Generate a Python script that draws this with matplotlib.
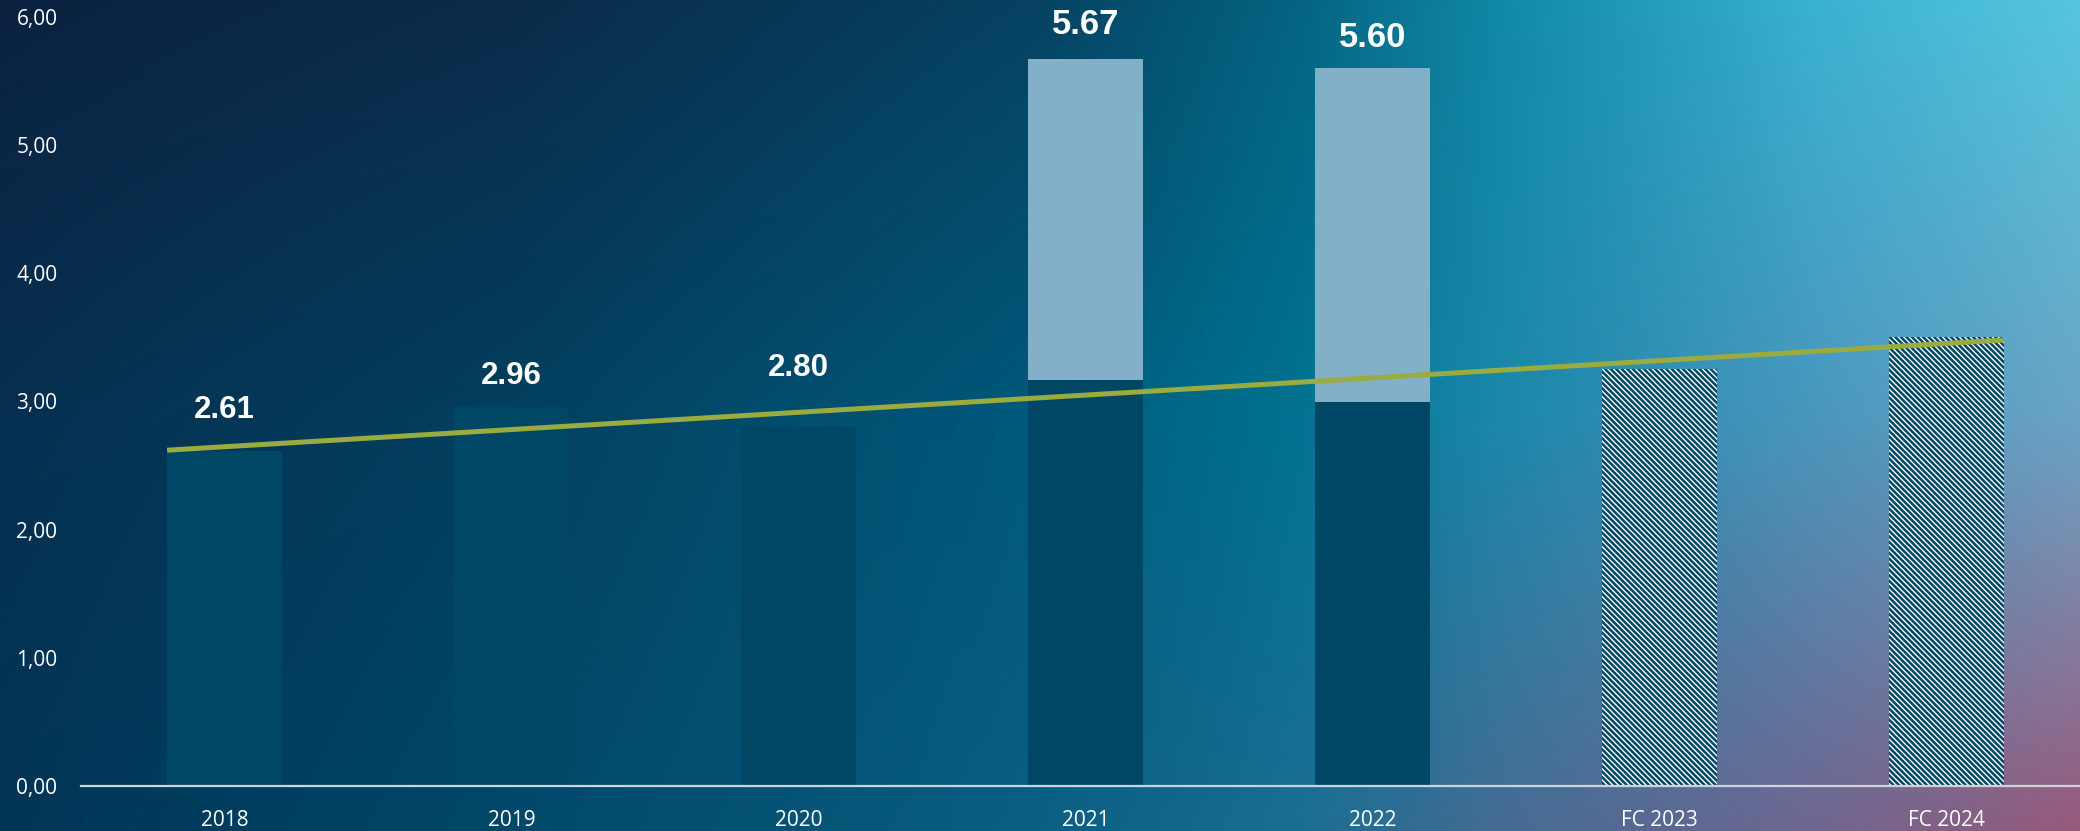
import matplotlib.pyplot as plt
import matplotlib.colors as mcolors
import numpy as np

# values
years = ['2018', '2019', '2020', '2021', '2022', 'FC 2023', 'FC 2024']
base = [2.61, 2.96, 2.80, 3.17, 3.00, 3.25, 3.50]
extra = [0, 0, 0, 2.50, 2.60, 0, 0]
forecast = [False, False, False, False, False, True, True]
totals = ['2.61', '2.96', '2.80', '5.67', '5.60', None, None]
trend = [2.62, 3.48]  # trend line value at left of first bar / right of last bar

# layout only: how far above each bar its label sits
label_lift = [0.32, 0.24, 0.46, 0.27, 0.24, 0, 0]

dark = '#004766'
light = '#82b0c8'

W, H = 2080, 831
fig = plt.figure(figsize=(W / 100, H / 100), dpi=100)

# background gradient, built from a few sampled colours
gx = [0, 0.25, 0.5, 0.625, 0.72, 0.875, 1.0]
rows = [
    ['#0b2240', '#0b2b4a', '#064262', '#046482', '#1088a5', '#3ab2d0', '#55c6de'],
    ['#062f50', '#03405f', '#005a7c', '#007391', '#1a87aa', '#4a97bd', '#6aa4c6'],
    ['#013556', '#00496a', '#0a5f82', '#1a6e92', '#456c94', '#6f6690', '#985a7c'],
]
gy = [0, 0.5, 1.0]
xs = np.linspace(0, 1, 400)
ys = np.linspace(0, 1, 160)
row_img = []
for r in rows:
    rgb = np.array([mcolors.to_rgb(c) for c in r])
    row_img.append(np.stack([np.interp(xs, gx, rgb[:, k]) for k in range(3)], axis=-1))
row_img = np.array(row_img)
img = np.empty((len(ys), len(xs), 3))
for k in range(3):
    for i in range(len(xs)):
        img[:, i, k] = np.interp(ys, gy, row_img[:, i, k])

bg = fig.add_axes([0, 0, 1, 1], zorder=-1)
bg.imshow(img, aspect='auto', extent=[0, 1, 1, 0], interpolation='bicubic')
bg.axis('off')

ax = fig.add_axes([81 / W, 1 - 786 / H, 2009 / W, (786 - 17) / H])
ax.patch.set_alpha(0)

x = np.arange(len(years))
width = 0.4
plt.rcParams['hatch.linewidth'] = 1.0
for i in range(len(years)):
    if forecast[i]:
        ax.bar(x[i], base[i], width, color=dark, edgecolor='white', linewidth=0,
               hatch='\\\\\\\\\\\\', zorder=2)
    else:
        ax.bar(x[i], base[i], width, color=dark, linewidth=0, zorder=2)
    if extra[i] > 0:
        ax.bar(x[i], extra[i], width, bottom=base[i], color=light, linewidth=0, zorder=2)
    if totals[i]:
        big = extra[i] > 0
        ax.text(x[i], base[i] + extra[i] + label_lift[i], totals[i], ha='center', va='center',
                color='white', fontweight='bold', family='Liberation Sans',
                fontsize=25 if big else 22.5, zorder=4)

ax.plot([x[0] - width / 2, x[-1] + width / 2], trend, color='#9aab40', linewidth=3.6,
        solid_capstyle='butt', zorder=3)

ax.set_xlim(-0.5, len(years) - 0.5)
ax.set_ylim(0, 6)
ax.set_yticks(np.arange(0, 7, 1))
ax.set_yticklabels([('%.2f' % v).replace('.', ',') for v in np.arange(0, 7, 1)])
ax.set_xticks(x)
ax.set_xticklabels(years)
ax.tick_params(axis='both', length=0, colors='white', labelsize=15)
ax.tick_params(axis='x', pad=17)
ax.tick_params(axis='y', pad=17)
for lab in ax.get_xticklabels() + ax.get_yticklabels():
    lab.set_family('Open Sans')

for s in ['top', 'right', 'left']:
    ax.spines[s].set_visible(False)
ax.spines['bottom'].set_color('#cfd3d6')
ax.spines['bottom'].set_linewidth(1.6)
ax.spines['bottom'].set_zorder(5)

fig.savefig('out.png', dpi=100)
